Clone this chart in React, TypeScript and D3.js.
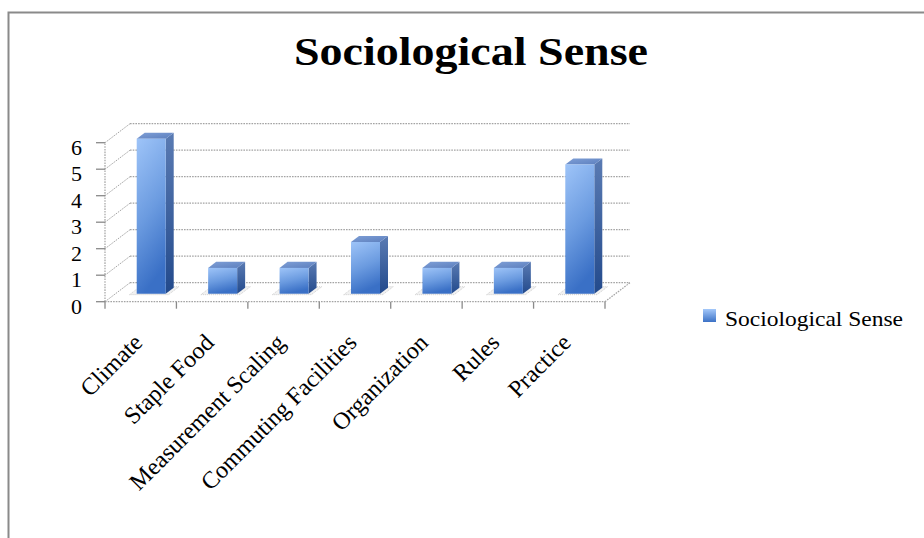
import React from "react";
import * as d3 from "d3";

const categories = [
  "Climate",
  "Staple Food",
  "Measurement Scaling",
  "Commuting Facilities",
  "Organization",
  "Rules",
  "Practice",
];
const values = [6, 1, 1, 2, 1, 1, 5];
const yTicks = [0, 1, 2, 3, 4, 5, 6];
const seriesName = "Sociological Sense";
const chartTitle = "Sociological Sense";

const W = 924;
const H = 538;

// front plane of the 3D plot
const X0 = 105;
const X1 = 605;
const Y0 = 301.7;
const Y1 = 142.7;
// depth offset of the back wall
const DX = 25;
const DY = -19;

// bar depth placement
const Z0 = 0.42;
const Z1 = 0.74;
const BAR_W = 29;

export default function App() {
  const x = d3.scaleBand<string>().domain(categories).range([X0, X1]);
  const y = d3.scaleLinear().domain([0, 6]).range([Y0, Y1]);
  const h = d3.scaleLinear().domain([0, 6]).range([0, 155]);

  const proj = (px: number, py: number, z: number): [number, number] => [
    px + z * DX,
    py + z * DY,
  ];
  const pts = (arr: [number, number][]) => arr.map((p) => p.join(",")).join(" ");

  const gridStroke = "#a3a3a3";
  const dash = "1.6,1.1";
  const serif = "'Liberation Serif', 'DejaVu Serif', serif";

  return (
    <svg
      width={W}
      height={H}
      style={{ position: "absolute", left: 0, top: 0 }}
      xmlns="http://www.w3.org/2000/svg"
    >
      <defs>
        <linearGradient id="gFront" x1="0" y1="0" x2="0.25" y2="1">
          <stop offset="0" stopColor="#9ec4f8" />
          <stop offset="0.55" stopColor="#6b9be0" />
          <stop offset="1" stopColor="#3a70c6" />
        </linearGradient>
        <linearGradient id="gSide" x1="0" y1="0" x2="0" y2="1">
          <stop offset="0" stopColor="#5a7bb3" />
          <stop offset="1" stopColor="#234a8c" />
        </linearGradient>
        <linearGradient id="gTop" x1="0" y1="0" x2="1" y2="1">
          <stop offset="0" stopColor="#7f9fd6" />
          <stop offset="1" stopColor="#5c7fbe" />
        </linearGradient>
        <linearGradient id="gLegend" x1="0" y1="0" x2="0" y2="1">
          <stop offset="0" stopColor="#a4c8fa" />
          <stop offset="1" stopColor="#3c72c6" />
        </linearGradient>
      </defs>

      <rect x={0} y={0} width={W} height={H} fill="#ffffff" />
      <rect
        x={8.5}
        y={12.5}
        width={1000}
        height={700}
        fill="#ffffff"
        stroke="#8a8a8a"
        strokeWidth={2}
      />

      <text
        x={471}
        y={65}
        textAnchor="middle"
        fontFamily={serif}
        fontWeight="bold"
        fontSize={41}
        textLength={354}
        lengthAdjust="spacingAndGlyphs"
        fill="#000"
      >
        {chartTitle}
      </text>

      {/* back wall gridlines */}
      {yTicks.map((t) => {
        const [bx0, by] = proj(X0, y(t), 1);
        const [bx1] = proj(X1, y(t), 1);
        return (
          <line
            key={"g" + t}
            x1={bx0}
            y1={by}
            x2={bx1}
            y2={by}
            stroke={gridStroke}
            strokeWidth={1.2}
            strokeDasharray={dash}
          />
        );
      })}
      {/* side wall diagonals */}
      {yTicks.map((t) => {
        const [fx, fy] = proj(X0, y(t), 0);
        const [bx, by] = proj(X0, y(t), 1);
        return (
          <line
            key={"d" + t}
            x1={fx}
            y1={fy}
            x2={bx}
            y2={by}
            stroke={gridStroke}
            strokeWidth={1}
            strokeDasharray={dash}
          />
        );
      })}
      {/* floor right edge */}
      {(() => {
        const [fx, fy] = proj(X1, y(0), 0);
        const [bx, by] = proj(X1, y(0), 1);
        return (
          <line x1={fx} y1={fy} x2={bx} y2={by} stroke={gridStroke} strokeWidth={1.2} strokeDasharray={dash} />
        );
      })()}
      {/* front vertical axis */}
      <line x1={X0} y1={y(0)} x2={X0} y2={y(6)} stroke={gridStroke} strokeWidth={1.2} strokeDasharray={dash} />
      {/* front horizontal axis */}
      <line x1={X0} y1={y(0)} x2={X1} y2={y(0)} stroke={gridStroke} strokeWidth={1.3} strokeDasharray={dash} />

      {/* y ticks and labels */}
      {yTicks.map((t) => (
        <g key={"yt" + t}>
          <line x1={96} y1={y(t)} x2={X0} y2={y(t)} stroke="#8a8a8a" strokeWidth={1.3} />
          <text
            x={82}
            y={y(t) + 12}
            textAnchor="end"
            fontFamily={serif}
            fontSize={22}
            fill="#000"
          >
            {t}
          </text>
        </g>
      ))}

      {/* x ticks */}
      {[...categories.map((c) => x(c) as number), X1].map((tx, i) => (
        <line key={"xt" + i} x1={tx} y1={y(0)} x2={tx} y2={y(0) + 7} stroke="#8a8a8a" strokeWidth={1.3} />
      ))}

      {/* bars */}
      {categories.map((c, i) => {
        const cx = (x(c) as number) + x.bandwidth() / 2;
        const l = cx - BAR_W / 2;
        const r = cx + BAR_W / 2;
        const hh = h(values[i]);
        const base = y(0);
        const top = base - hh;
        const fbl = proj(l, base, Z0);
        const fbr = proj(r, base, Z0);
        const ftl = proj(l, top, Z0);
        const ftr = proj(r, top, Z0);
        const bbr = proj(r, base, Z1);
        const btl = proj(l, top, Z1);
        const btr = proj(r, top, Z1);
        const sl = proj(l - 6, base, Z0 - 0.05);
        const sr = proj(r + 4, base, Z0 - 0.05);
        const sbr = proj(r + 4, base, Z1 + 0.05);
        const sbl = proj(l - 6, base, Z1 + 0.05);
        return (
          <g key={"bar" + c}>
            <polygon points={pts([sl, sr, sbr, sbl])} fill="#f1f1f1" stroke="#d0d0d0" strokeWidth={1} strokeDasharray="1,1" />
            <polygon points={pts([fbr, bbr, btr, ftr])} fill="url(#gSide)" />
            <polygon points={pts([ftl, ftr, btr, btl])} fill="url(#gTop)" />
            <polygon points={pts([fbl, fbr, ftr, ftl])} fill="url(#gFront)" />
          </g>
        );
      })}

      {/* x labels */}
      {categories.map((c) => {
        const cx = (x(c) as number) + x.bandwidth() / 2 + 3;
        const cy = 344;
        return (
          <text
            key={"xl" + c}
            x={cx}
            y={cy}
            transform={`rotate(-45 ${cx} ${cy})`}
            textAnchor="end"
            fontFamily={serif}
            fontSize={24}
            fill="#000"
          >
            {c}
          </text>
        );
      })}

      {/* legend */}
      <rect x={703} y={309} width={13} height={13} fill="url(#gLegend)" />
      <text
        x={725}
        y={326}
        fontFamily={serif}
        fontSize={22}
        textLength={178}
        lengthAdjust="spacingAndGlyphs"
        fill="#000"
      >
        {seriesName}
      </text>
    </svg>
  );
}
